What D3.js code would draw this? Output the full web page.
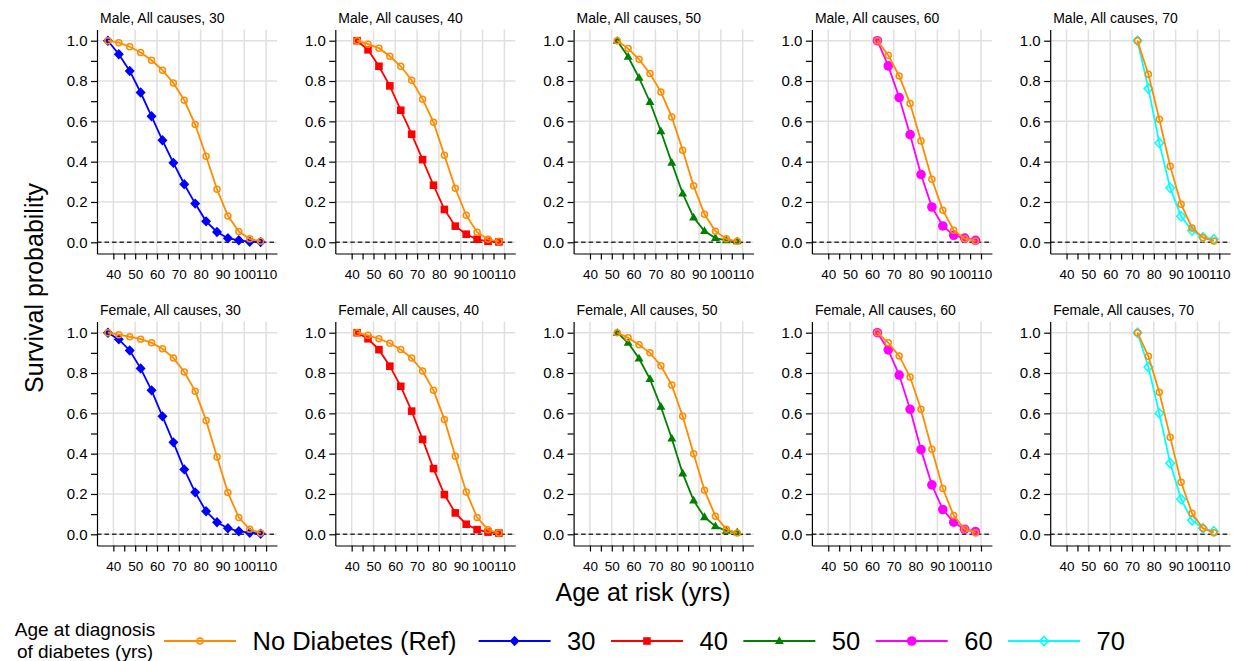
<!DOCTYPE html>
<html><head><meta charset="utf-8">
<script src="https://cdn.jsdelivr.net/npm/d3@7"></script>
<style>
body{margin:0;background:#fff;}
svg{display:block;font-family:"Liberation Sans",Arial,Helvetica,sans-serif;}
</style></head><body>
<svg id="chart" width="1240" height="661"></svg>
<script>
// ---------------- DATA ----------------
const atRiskAges = [37.5, 42.5, 47.5, 52.5, 57.5, 62.5, 67.5, 72.5, 77.5, 82.5, 87.5, 92.5, 97.5, 102.5, 107.5];
const diagnosisAges = [30, 40, 50, 60, 70];
const sexes = ["Male", "Female"];
const xTicks = [40, 45, 50, 55, 60, 65, 70, 75, 80, 85, 90, 95, 100, 105, 110];
const xLabels = [40, 50, 60, 70, 80, 90, 100, 110];
const yTicks = [0, 0.1, 0.2, 0.3, 0.4, 0.5, 0.6, 0.7, 0.8, 0.9, 1.0];
const yLabels = [0, 0.2, 0.4, 0.6, 0.8, 1.0];

const male30Ref  = [1.0, 0.99, 0.97, 0.942, 0.903, 0.854, 0.79, 0.705, 0.584, 0.427, 0.263, 0.131, 0.053, 0.017, 0.005];
const male30Diab = [1.0, 0.933, 0.85, 0.743, 0.625, 0.506, 0.394, 0.288, 0.192, 0.104, 0.051, 0.02, 0.01, 0.003, 0.001];
const male40Ref  = [1.0, 0.983, 0.963, 0.923, 0.873, 0.804, 0.71, 0.596, 0.432, 0.268, 0.134, 0.05, 0.015, 0.005];
const male40Diab = [1.0, 0.955, 0.873, 0.776, 0.655, 0.536, 0.41, 0.283, 0.163, 0.08, 0.04, 0.015, 0.005, 0.002];
const male50Ref  = [1.0, 0.961, 0.908, 0.837, 0.746, 0.622, 0.457, 0.280, 0.139, 0.055, 0.017, 0.005];
const male50Diab = [1.0, 0.920, 0.816, 0.696, 0.551, 0.394, 0.242, 0.123, 0.056, 0.021, 0.010, 0.005];
const male60Ref  = [1.0, 0.928, 0.825, 0.688, 0.503, 0.313, 0.159, 0.060, 0.018, 0.007];
const male60Diab = [1.0, 0.875, 0.718, 0.534, 0.336, 0.175, 0.081, 0.035, 0.021, 0.010];
const male70Ref  = [1.0, 0.834, 0.610, 0.377, 0.189, 0.071, 0.023, 0.007];
const male70Diab = [1.0, 0.763, 0.493, 0.270, 0.129, 0.058, 0.025, 0.015];

const female30Ref  = [1.0, 0.99, 0.98, 0.968, 0.95, 0.92, 0.875, 0.805, 0.71, 0.565, 0.383, 0.207, 0.083, 0.025, 0.007];
const female30Diab = [1.0, 0.967, 0.912, 0.823, 0.714, 0.585, 0.456, 0.322, 0.208, 0.114, 0.06, 0.03, 0.015, 0.008, 0.003];
const female40Ref  = [1.0, 0.987, 0.970, 0.948, 0.917, 0.874, 0.810, 0.714, 0.570, 0.387, 0.210, 0.083, 0.023, 0.006];
const female40Diab = [1.0, 0.970, 0.916, 0.834, 0.734, 0.611, 0.471, 0.326, 0.197, 0.106, 0.050, 0.023, 0.011, 0.006];
const female50Ref  = [1.0, 0.975, 0.94, 0.9, 0.836, 0.74, 0.585, 0.4, 0.218, 0.09, 0.025, 0.007];
const female50Diab = [1.0, 0.95, 0.872, 0.77, 0.633, 0.475, 0.302, 0.168, 0.085, 0.04, 0.017, 0.01];
const female60Ref  = [1.0, 0.95, 0.885, 0.78, 0.62, 0.422, 0.227, 0.093, 0.025, 0.008];
const female60Diab = [1.0, 0.915, 0.79, 0.62, 0.42, 0.245, 0.123, 0.06, 0.025, 0.013];
const female70Ref  = [1.0, 0.883, 0.705, 0.482, 0.258, 0.104, 0.03, 0.008];
const female70Diab = [1.0, 0.83, 0.6, 0.353, 0.174, 0.07, 0.03, 0.015];

const legendLabels = ["No Diabetes (Ref)", "30", "40", "50", "60", "70"];

const refSeries = {
  Male: [male30Ref, male40Ref, male50Ref, male60Ref, male70Ref],
  Female: [female30Ref, female40Ref, female50Ref, female60Ref, female70Ref]
};
const diabSeries = {
  Male: [male30Diab, male40Diab, male50Diab, male60Diab, male70Diab],
  Female: [female30Diab, female40Diab, female50Diab, female60Diab, female70Diab]
};

// ---------------- STYLE ----------------
const refColor = "#ff8c00";
const diagColors = ["#0000ff", "#ff0000", "#008000", "#ff00ff", "#00ffff"];
const markerShapes = ["ocircle", "diamond", "square", "triangle", "circle", "odiamond"];

function drawMarker(sel, shape, color) {
  if (shape === "ocircle") {
    sel.append("circle").attr("r", 3).attr("fill", "none").attr("stroke", color).attr("stroke-width", 1.5);
  } else if (shape === "circle") {
    sel.append("circle").attr("r", 4.8).attr("fill", color);
  } else if (shape === "diamond") {
    sel.append("path").attr("d", "M0,-5.2L5,0L0,5.2L-5,0Z").attr("fill", color);
  } else if (shape === "odiamond") {
    sel.append("path").attr("d", "M0,-4.6L4.3,0L0,4.6L-4.3,0Z").attr("fill", "none").attr("stroke", color).attr("stroke-width", 1.5);
  } else if (shape === "square") {
    sel.append("rect").attr("x", -3.8).attr("y", -3.8).attr("width", 7.6).attr("height", 7.6).attr("fill", color);
  } else if (shape === "triangle") {
    sel.append("path").attr("d", "M0,-4.8L4.5,3L-4.5,3Z").attr("fill", color);
  }
}

// ---------------- LAYOUT ----------------
const svg = d3.select("#chart");
svg.append("rect").attr("width", 1240).attr("height", 661).attr("fill", "#fff");

const left0 = 97, colStep = 238.3, plotW = 180;
const top0 = 29.5, rowStep = 292, plotH = 224;

const x = d3.scaleLinear().domain([32.5, 115]).range([0, plotW]);
const y = d3.scaleLinear().domain([-0.0556, 1.0556]).range([plotH, 0]);
const line = d3.line().x(d => x(d[0])).y(d => y(d[1]));

sexes.forEach((sex, row) => {
  diagnosisAges.forEach((dAge, col) => {
    const g = svg.append("g")
      .attr("transform", `translate(${left0 + col * colStep},${top0 + row * rowStep})`);

    // grid
    g.append("g").selectAll("line").data(yLabels).join("line")
      .attr("x1", 0).attr("x2", plotW).attr("y1", d => y(d)).attr("y2", d => y(d))
      .attr("stroke", "#e0e0e0").attr("stroke-width", 1.5);
    g.append("g").selectAll("line").data(xLabels).join("line")
      .attr("y1", 0).attr("y2", plotH).attr("x1", d => x(d)).attr("x2", d => x(d))
      .attr("stroke", "#e0e0e0").attr("stroke-width", 1.5);

    // zero reference line
    g.append("line").attr("x1", 0).attr("x2", plotW).attr("y1", y(0)).attr("y2", y(0))
      .attr("stroke", "#333").attr("stroke-width", 1.6).attr("stroke-dasharray", "4.5,3");

    // axes
    const xa = g.append("g").attr("transform", `translate(0,${plotH})`)
      .call(d3.axisBottom(x).tickValues(xTicks)
        .tickFormat(d => xLabels.includes(d) ? String(d) : "")
        .tickSize(6).tickSizeOuter(0).tickPadding(9.5));
    xa.selectAll("text").attr("font-size", 13.5).attr("font-family", null).attr("fill", "#000");
    const ya = g.append("g")
      .call(d3.axisLeft(y).tickValues(yTicks)
        .tickFormat(d => Math.round(d * 10) % 2 === 0 ? d3.format(".1f")(d) : "")
        .tickSize(6).tickSizeOuter(0).tickPadding(3.5));
    ya.selectAll("text").attr("font-size", 15).attr("font-family", null).attr("fill", "#000");
    [xa, ya].forEach(a => {
      a.attr("font-family", null);
      a.selectAll("path,line").attr("stroke", "#000").attr("stroke-width", 1.2);
    });

    // series
    const ages = atRiskAges.filter(a => a > dAge);
    const refPts = ages.map((a, i) => [a, refSeries[sex][col][i]]);
    const diabPts = ages.map((a, i) => [a, diabSeries[sex][col][i]]);

    const dc = diagColors[col];
    g.append("path").datum(diabPts).attr("d", line).attr("fill", "none")
      .attr("stroke", dc).attr("stroke-width", 1.8);
    diabPts.forEach(p => {
      const m = g.append("g").attr("transform", `translate(${x(p[0])},${y(p[1])})`);
      drawMarker(m, markerShapes[col + 1], dc);
    });
    g.append("path").datum(refPts).attr("d", line).attr("fill", "none")
      .attr("stroke", refColor).attr("stroke-width", 1.8);
    refPts.forEach(p => {
      const m = g.append("g").attr("transform", `translate(${x(p[0])},${y(p[1])})`);
      drawMarker(m, "ocircle", refColor);
    });

    // title
    g.append("text").attr("x", 3).attr("y", -7).attr("font-size", 14).attr("fill", "#000")
      .text(`${sex}, All causes, ${dAge}`);
  });
});

// axis titles
svg.append("text").attr("transform", "translate(43,288) rotate(-90)")
  .attr("text-anchor", "middle").attr("font-size", 25).attr("fill", "#000")
  .text("Survival probability");
svg.append("text").attr("x", 643).attr("y", 601)
  .attr("text-anchor", "middle").attr("font-size", 25).attr("fill", "#000")
  .text("Age at risk (yrs)");

// legend
const lg = svg.append("g");
lg.append("text").attr("x", 85).attr("y", 636).attr("text-anchor", "middle")
  .attr("font-size", 19).attr("fill", "#000").text("Age at diagnosis");
lg.append("text").attr("x", 85).attr("y", 657.5).attr("text-anchor", "middle")
  .attr("font-size", 19).attr("fill", "#000").text("of diabetes (yrs)");

const legY = 641;
let lx = 164;
const legColors = [refColor].concat(diagColors);
legendLabels.forEach((lab, i) => {
  const c = legColors[i];
  lg.append("line").attr("x1", lx).attr("x2", lx + 72).attr("y1", legY).attr("y2", legY)
    .attr("stroke", c).attr("stroke-width", 2);
  const m = lg.append("g").attr("transform", `translate(${lx + 36},${legY})`);
  drawMarker(m, markerShapes[i], c);
  const t = lg.append("text").attr("x", lx + 72 + 16.5).attr("y", legY + 9)
    .attr("font-size", 25.5).attr("fill", "#000").text(lab);
  const w = t.node().getComputedTextLength();
  lx = lx + 72 + 16.5 + w + (i === 0 ? 22 : 15.5);
});
</script>
</body></html>
